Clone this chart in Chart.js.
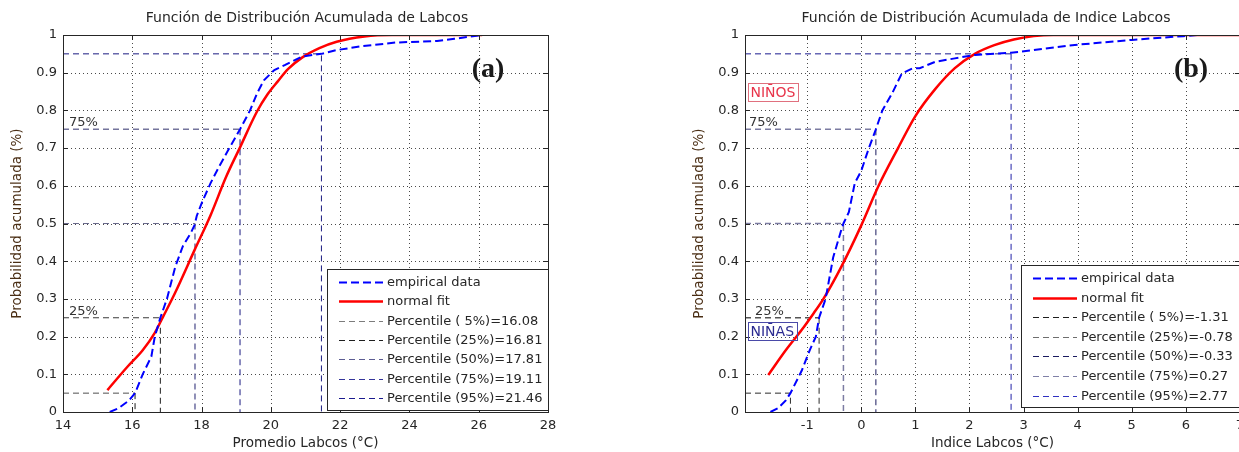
<!DOCTYPE html>
<html>
<head>
<meta charset="utf-8">
<title>Función de Distribución Acumulada - Labcos</title>
<script src="https://cdn.jsdelivr.net/npm/chart.js@4.4.0/dist/chart.umd.min.js"></script>
<style>
    html, body { margin: 0; padding: 0; background: #fff; overflow: hidden; width: 1239px; height: 452px; }
    .panel { position: absolute; top: 0; height: 452px; }
    #panelA { left: 0; width: 620px; }
    #panelB { left: 620px; width: 630px; }
</style>
</head>
<body>
<div class="panel" id="panelA"><canvas id="chartA" width="620" height="452"></canvas></div>
<div class="panel" id="panelB"><canvas id="chartB" width="630" height="452"></canvas></div>
<script>
// Shared values
const pctLevels = [0.05, 0.25, 0.50, 0.75, 0.95];
const pctTags = [' 5%', '25%', '50%', '75%', '95%'];
const yTicks = [0, 0.1, 0.2, 0.3, 0.4, 0.5, 0.6, 0.7, 0.8, 0.9, 1];

// Panel (a) - Promedio Labcos
const xTicksA = [14, 16, 18, 20, 22, 24, 26, 28];
const xRangeA = [14, 28];
const empAx = [15.35, 15.6, 15.9, 16.08, 16.3, 16.55, 16.65, 16.81, 17.0, 17.24, 17.46, 17.69, 17.8, 17.86, 18.03, 18.26, 18.5, 18.77, 19.11, 19.4, 19.6, 19.8, 20.1, 20.4, 20.9, 21.46, 21.9, 22.6, 23.6, 24.8, 25.3, 26.1];
const empAy = [0.0, 0.01, 0.03, 0.05, 0.10, 0.147, 0.20, 0.25, 0.30, 0.385, 0.44, 0.475, 0.496, 0.52, 0.56, 0.607, 0.65, 0.695, 0.75, 0.80, 0.845, 0.88, 0.907, 0.92, 0.943, 0.95, 0.96, 0.97, 0.98, 0.984, 0.99, 1.0];
const fitAx = [15.28, 15.86, 16.3, 16.65, 16.89, 17.23, 17.8, 18.26, 18.7, 19.1, 19.6, 19.9, 20.2, 20.5, 20.9, 21.4, 21.9, 22.7, 23.5, 26.1];
const fitAy = [0.058, 0.12, 0.164, 0.21, 0.253, 0.315, 0.43, 0.522, 0.622, 0.700, 0.797, 0.842, 0.877, 0.91, 0.94, 0.965, 0.982, 0.996, 1.0, 1.0];
const pctA = [16.08, 16.81, 17.81, 19.11, 21.46];

// Panel (b) - Indice Labcos
const xTicksB = [-1, 0, 1, 2, 3, 4, 5, 6, 7];
const xRangeB = [-2.15, 7];
const empBx = [-1.68, -1.54, -1.4, -1.31, -1.24, -1.10, -0.95, -0.84, -0.78, -0.66, -0.52, -0.37, -0.33, -0.23, -0.12, 0.0, 0.14, 0.27, 0.39, 0.57, 0.75, 0.94, 1.08, 1.37, 1.73, 2.1, 2.77, 3.19, 3.9, 5.0, 5.95, 6.24];
const empBy = [0.0, 0.01, 0.03, 0.05, 0.07, 0.11, 0.165, 0.20, 0.25, 0.30, 0.41, 0.483, 0.50, 0.53, 0.607, 0.64, 0.70, 0.75, 0.80, 0.845, 0.898, 0.911, 0.912, 0.929, 0.938, 0.947, 0.953, 0.96, 0.973, 0.987, 0.997, 1.0];
const fitBx = [-1.72, -1.39, -1.1, -0.88, -0.70, -0.37, 0.0, 0.32, 0.68, 1.0, 1.37, 1.73, 2.1, 2.46, 2.82, 3.19, 3.55, 7];
const fitBy = [0.098, 0.165, 0.218, 0.262, 0.30, 0.385, 0.495, 0.60, 0.70, 0.785, 0.857, 0.912, 0.950, 0.973, 0.988, 0.997, 1.0, 1.0];
const pctB = [-1.31, -0.78, -0.33, 0.27, 2.77];

// Styles: legend colour, horizontal segment, vertical segment
const FONT = '"DejaVu Sans", "Liberation Sans", Arial, sans-serif';
const TEXT = '#262626';
const pctStyleA = [
    { legend: '#7c7c7c', h: '#505050', v: '#1e1e1e', hw: 1, vw: 1 },
    { legend: '#1e1e1e', h: '#3a3a3a', v: '#1e1e1e', hw: 1, vw: 1 },
    { legend: '#5c5c92', h: '#6a6a8c', v: '#6c6ca0', hw: 1, vw: 1.5 },
    { legend: '#34349a', h: '#74749c', v: '#1a1a80', hw: 1.5, vw: 1 },
    { legend: '#1a1a8e', h: '#1a1a80', v: '#1a1a80', hw: 1, vw: 1 }
];
const pctStyleB = [
    { legend: '#1e1e1e', h: '#2a2a2a', v: '#2a2a2a', hw: 1, vw: 1 },
    { legend: '#6e6e6e', h: '#555555', v: '#2a2a2a', hw: 1.5, vw: 1 },
    { legend: '#1a1a5e', h: '#7c7ca2', v: '#7c7ca2', hw: 1.5, vw: 1.5 },
    { legend: '#8080a6', h: '#7c7ca2', v: '#1a1a5e', hw: 1.5, vw: 1 },
    { legend: '#2f2fc0', h: '#1a1a8e', v: '#2222a8', hw: 1, vw: 1 }
];

function toPoints(xs, ys) {
    return xs.map((x, i) => ({ x: x, y: ys[i] }));
}

// Build empirical, fit and percentile datasets for one panel
function buildDatasets(empX, empY, fitX, fitY, pct, xMin, pctStyle) {
    const sets = [
        { label: 'empirical data', data: toPoints(empX, empY), borderColor: '#0000ff', borderWidth: 2, borderDash: [8, 4] },
        { label: 'normal fit', data: toPoints(fitX, fitY), borderColor: '#ff0000', borderWidth: 2.5, borderDash: [], cubicInterpolationMode: 'monotone' }
    ];
    pct.forEach((v, i) => {
        const st = pctStyle[i];
        sets.push({
            label: 'Percentile (' + pctTags[i] + ')=' + v.toFixed(2),
            data: [{ x: xMin, y: pctLevels[i] }, { x: v, y: pctLevels[i] }, { x: v, y: 0 }],
            borderColor: st.legend,
            borderWidth: 1,
            borderDash: [6, 4],
            segment: {
                borderColor: c => c.p0DataIndex === 0 ? st.h : st.v,
                borderWidth: c => c.p0DataIndex === 0 ? st.hw : st.vw
            }
        });
    });
    return sets;
}

// Dotted grid, frame, inside ticks, notes, legend box and title (MATLAB look)
const matlabAxes = {
    id: 'matlabAxes',
    beforeDatasetsDraw(chart) {
        const { ctx, chartArea: a, scales: { x, y } } = chart;
        ctx.save();
        ctx.strokeStyle = '#4a4a4a';
        ctx.lineWidth = 1;
        ctx.setLineDash([1, 3]);
        ctx.beginPath();
        x.ticks.forEach(t => {
            const px = Math.round(x.getPixelForValue(t.value)) + 0.5;
            if (px <= a.left + 1 || px >= a.right - 1) return;
            ctx.moveTo(px, a.top); ctx.lineTo(px, a.bottom);
        });
        y.ticks.forEach(t => {
            const py = Math.round(y.getPixelForValue(t.value)) + 0.5;
            if (py <= a.top + 1 || py >= a.bottom - 1) return;
            ctx.moveTo(a.left, py); ctx.lineTo(a.right, py);
        });
        ctx.stroke();
        ctx.restore();
    },
    afterDatasetsDraw(chart, args, o) {
        const { ctx, chartArea: a, scales: { x, y } } = chart;
        ctx.save();

        // axes box with inward tick marks
        ctx.strokeStyle = TEXT;
        ctx.lineWidth = 1;
        ctx.setLineDash([]);
        ctx.strokeRect(Math.round(a.left) + 0.5, Math.round(a.top) + 0.5, Math.round(a.right - a.left), Math.round(a.bottom - a.top));
        ctx.beginPath();
        x.ticks.forEach(t => {
            const px = Math.round(x.getPixelForValue(t.value)) + 0.5;
            ctx.moveTo(px, a.bottom); ctx.lineTo(px, a.bottom - 5);
            ctx.moveTo(px, a.top); ctx.lineTo(px, a.top + 5);
        });
        y.ticks.forEach(t => {
            const py = Math.round(y.getPixelForValue(t.value)) + 0.5;
            ctx.moveTo(a.left, py); ctx.lineTo(a.left + 5, py);
            ctx.moveTo(a.right, py); ctx.lineTo(a.right - 5, py);
        });
        ctx.stroke();

        // percent notes above the percentile lines
        ctx.font = '13px ' + FONT;
        ctx.fillStyle = '#333';
        ctx.textAlign = 'left';
        ctx.textBaseline = 'alphabetic';
        o.notes.forEach(n => {
            ctx.fillText(n.text, a.left + n.dx, y.getPixelForValue(n.level) - 3);
        });

        // boxed labels
        ctx.font = '14px ' + FONT;
        (o.boxed || []).forEach(b => {
            const cy = y.getPixelForValue(b.level);
            const w = ctx.measureText(b.text).width + 5;
            ctx.fillStyle = b.color;
            ctx.textBaseline = 'middle';
            ctx.fillText(b.text, a.left + b.dx + 2.5, cy + 1);
            ctx.strokeStyle = b.border;
            ctx.strokeRect(Math.round(a.left + b.dx) + 0.5, Math.round(cy - 8.5) + 0.5, Math.round(w), 18);
        });

        // panel tag
        ctx.font = 'bold 28px "Liberation Serif", "DejaVu Serif", serif';
        ctx.fillStyle = '#1a1a1a';
        ctx.textAlign = 'center';
        ctx.textBaseline = 'middle';
        ctx.fillText(o.tag, o.tagX, 70);

        // legend
        const L = o.legend;
        ctx.fillStyle = '#fff';
        ctx.fillRect(L.x, L.y, L.w, L.h);
        ctx.strokeStyle = TEXT;
        ctx.lineWidth = 1;
        ctx.setLineDash([]);
        ctx.strokeRect(L.x + 0.5, L.y + 0.5, L.w, L.h);
        ctx.font = '13px ' + FONT;
        ctx.textAlign = 'left';
        ctx.textBaseline = 'middle';
        chart.data.datasets.forEach((ds, i) => {
            const ly = Math.round(L.y + L.first + i * L.step) + 0.5;
            ctx.strokeStyle = ds.borderColor;
            ctx.lineWidth = ds.borderWidth;
            ctx.setLineDash(ds.borderDash);
            ctx.beginPath();
            ctx.moveTo(L.x + 12, ly);
            ctx.lineTo(L.x + 56, ly);
            ctx.stroke();
            ctx.fillStyle = TEXT;
            ctx.fillText(ds.label, L.x + 60, ly);
        });

        // title
        ctx.font = '14px ' + FONT;
        ctx.fillStyle = TEXT;
        ctx.textAlign = 'center';
        ctx.fillText(o.title, o.titleX, 18);
        ctx.restore();
    }
};

function makeChart(canvasId, datasets, o) {
    return new Chart(document.getElementById(canvasId), {
        type: 'line',
        data: { datasets: datasets },
        options: {
            responsive: false,
            animation: false,
            layout: { padding: o.padding },
            elements: { point: { radius: 0 }, line: { tension: 0, fill: false } },
            plugins: {
                legend: { display: false },
                tooltip: { enabled: false },
                matlabAxes: o
            },
            scales: {
                x: {
                    type: 'linear',
                    min: o.xRange[0],
                    max: o.xRange[1],
                    afterBuildTicks: s => { s.ticks = o.xTicks.map(v => ({ value: v })); },
                    afterFit: s => { s.height = 40; },
                    grid: { display: false, drawTicks: false },
                    border: { display: false },
                    ticks: { color: TEXT, font: { family: FONT, size: 13 }, padding: 6, maxRotation: 0, autoSkip: false, callback: v => String(v) },
                    title: { display: true, text: o.xTitle, color: TEXT, font: { family: FONT, size: 13.5 }, padding: { top: 0, bottom: 0 } }
                },
                y: {
                    type: 'linear',
                    min: 0,
                    max: 1,
                    afterBuildTicks: s => { s.ticks = yTicks.map(v => ({ value: v })); },
                    afterFit: s => { s.width = 63; },
                    grid: { display: false, drawTicks: false },
                    border: { display: false },
                    ticks: { color: TEXT, font: { family: FONT, size: 13 }, padding: 6, autoSkip: false, callback: v => String(v) },
                    title: { display: true, text: 'Probabilidad acumulada (%)', color: '#4a2e14', font: { family: FONT, size: 13.5 }, padding: { top: 9, bottom: 0 } }
                }
            }
        },
        plugins: [matlabAxes]
    });
}

makeChart('chartA', buildDatasets(empAx, empAy, fitAx, fitAy, pctA, xRangeA[0], pctStyleA), {
    padding: { left: 0, top: 35, right: 72, bottom: 0 },
    xRange: xRangeA,
    xTicks: xTicksA,
    xTitle: 'Promedio Labcos (°C)',
    title: 'Función de Distribución Acumulada de Labcos',
    titleX: 307,
    tag: '(a)',
    tagX: 488,
    notes: [{ text: '75%', level: 0.75, dx: 6 }, { text: '25%', level: 0.25, dx: 6 }],
    legend: { x: 327, y: 269, w: 221, h: 141, first: 13, step: 19.3 }
});

makeChart('chartB', buildDatasets(empBx, empBy, fitBx, fitBy, pctB, xRangeB[0], pctStyleB), {
    padding: { left: 62, top: 35, right: 5, bottom: 0 },
    xRange: xRangeB,
    xTicks: xTicksB,
    xTitle: 'Indice Labcos (°C)',
    title: 'Función de Distribución Acumulada de Indice Labcos',
    titleX: 366,
    tag: '(b)',
    tagX: 571,
    notes: [{ text: '75%', level: 0.75, dx: 4 }, { text: '25%', level: 0.25, dx: 10 }],
    boxed: [
        { text: 'NIÑOS', level: 0.849, dx: 3, color: '#e8344a', border: '#e0707e' },
        { text: 'NIÑAS', level: 0.215, dx: 3, color: '#2a2a90', border: '#4a4aa8' }
    ],
    legend: { x: 401, y: 265, w: 219, h: 142, first: 13, step: 19.6 }
});
</script>
</body>
</html>
